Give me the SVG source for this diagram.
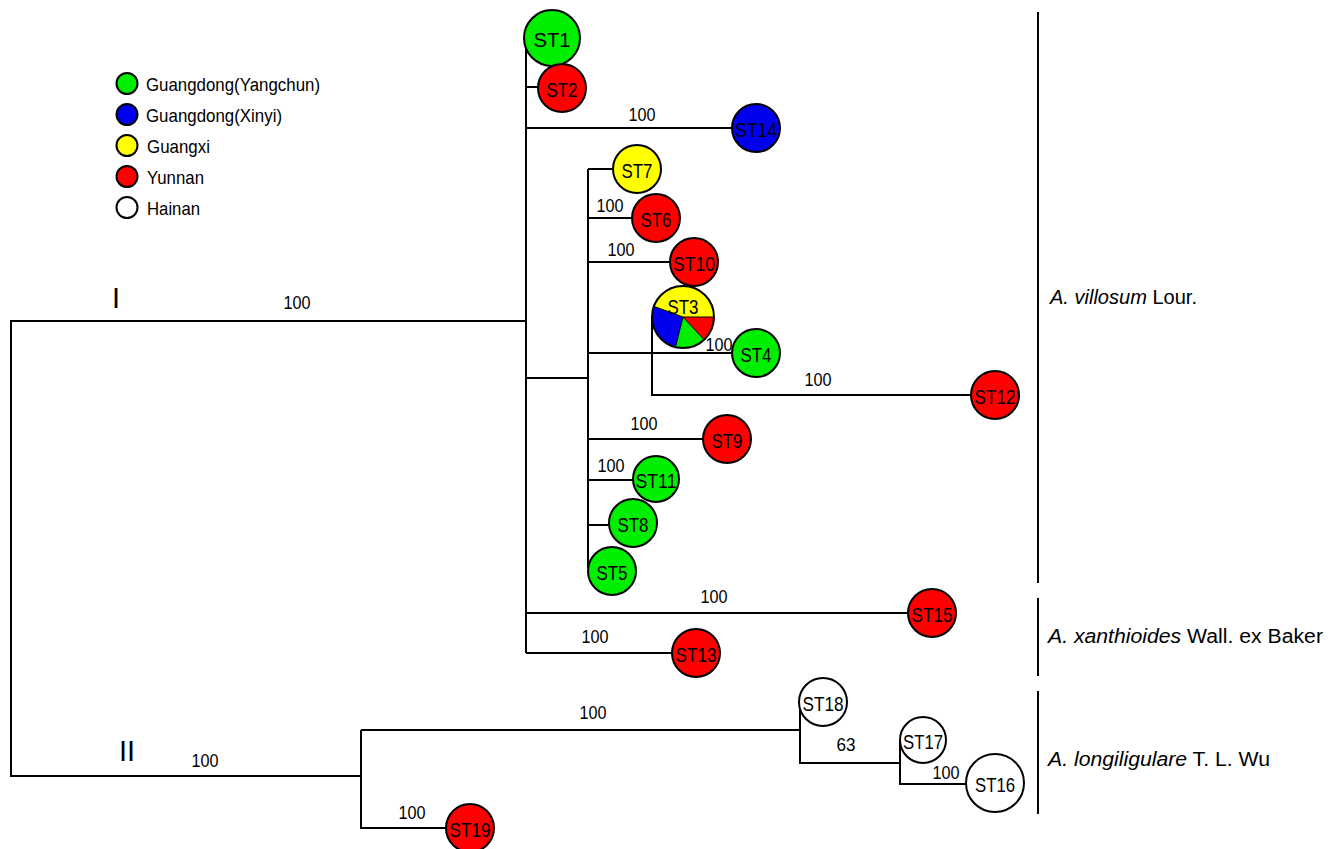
<svg xmlns="http://www.w3.org/2000/svg" width="1331" height="849" viewBox="0 0 1331 849">
<style>
.br{fill:none;stroke:#000;stroke-width:2}
.nd{stroke:#000;stroke-width:2}
.g{fill:#00ee00}.r{fill:#ff0000}.b{fill:#0000ee}.y{fill:#ffff00}.w{fill:#fff}
text{font-family:"Liberation Sans",Arial,sans-serif;fill:#000}
.nl{font-size:21px;text-anchor:middle;dominant-baseline:central}
.bs{font-size:19px;text-anchor:middle}
.lg{font-size:19px}
.sp{font-size:20px}
.cl{font-size:29px;text-anchor:middle}
</style>
<rect width="1331" height="849" fill="#fff"/>
<g id="connectors">
<path class="br" d="M526,321 H11 V776 H361"/>
<path class="br" d="M526,40 V653"/>
<path class="br" d="M526,87 H540"/>
<path class="br" d="M526,128 H733"/>
<path class="br" d="M526,378 H588"/>
<path class="br" d="M588,169 V568"/>
<path class="br" d="M588,169 H614"/>
<path class="br" d="M588,218 H633"/>
<path class="br" d="M588,262 H671"/>
<path class="br" d="M588,353 H733"/>
<path class="br" d="M652,317 V395 H972"/>
<path class="br" d="M588,439 H704"/>
<path class="br" d="M588,480 H634"/>
<path class="br" d="M588,525 H610"/>
<path class="br" d="M526,613 H909"/>
<path class="br" d="M526,653 H673"/>
<path class="br" d="M361,730 V828 H447"/>
<path class="br" d="M361,730 H800 V763 H900 V784 H966"/>
<path class="br" d="M800,702 V730"/>
<path class="br" d="M900,740 V763"/>
<path class="br" d="M1038,12 V583 M1038,598 V676 M1038,691 V814"/>
</g>
<g id="branch-labels">
<text class="cl" x="116" y="308">I</text>
<text class="bs" x="297" y="309" textLength="27" lengthAdjust="spacingAndGlyphs">100</text>
<text class="cl" x="127" y="761">II</text>
<text class="bs" x="205" y="767" textLength="27" lengthAdjust="spacingAndGlyphs">100</text>
<text class="bs" x="642" y="121" textLength="27" lengthAdjust="spacingAndGlyphs">100</text>
<text class="bs" x="610" y="212" textLength="27" lengthAdjust="spacingAndGlyphs">100</text>
<text class="bs" x="621" y="256" textLength="27" lengthAdjust="spacingAndGlyphs">100</text>
<text class="bs" x="719" y="351" textLength="27" lengthAdjust="spacingAndGlyphs">100</text>
<text class="bs" x="818" y="386" textLength="27" lengthAdjust="spacingAndGlyphs">100</text>
<text class="bs" x="644" y="430" textLength="27" lengthAdjust="spacingAndGlyphs">100</text>
<text class="bs" x="611" y="472" textLength="27" lengthAdjust="spacingAndGlyphs">100</text>
<text class="bs" x="714" y="603" textLength="27" lengthAdjust="spacingAndGlyphs">100</text>
<text class="bs" x="595" y="643" textLength="27" lengthAdjust="spacingAndGlyphs">100</text>
<text class="bs" x="593" y="719" textLength="27" lengthAdjust="spacingAndGlyphs">100</text>
<text class="bs" x="846" y="751" textLength="19" lengthAdjust="spacingAndGlyphs">63</text>
<text class="bs" x="946" y="779" textLength="27" lengthAdjust="spacingAndGlyphs">100</text>
<text class="bs" x="412" y="819" textLength="27" lengthAdjust="spacingAndGlyphs">100</text>
</g>
<g id="ST1"><circle class="nd g" cx="552" cy="38" r="28"/><text class="nl" x="552" y="39" textLength="37" lengthAdjust="spacingAndGlyphs">ST1</text></g>
<g id="ST2"><circle class="nd r" cx="562" cy="88" r="24"/><text class="nl" x="562" y="89" textLength="31" lengthAdjust="spacingAndGlyphs">ST2</text></g>
<g id="ST14"><circle class="nd b" cx="756" cy="128" r="24"/><text class="nl" x="756" y="129" textLength="42" lengthAdjust="spacingAndGlyphs">ST14</text></g>
<g id="ST7"><circle class="nd y" cx="637" cy="169" r="24"/><text class="nl" x="637" y="170" textLength="31" lengthAdjust="spacingAndGlyphs">ST7</text></g>
<g id="ST6"><circle class="nd r" cx="656" cy="218" r="24"/><text class="nl" x="656" y="219" textLength="31" lengthAdjust="spacingAndGlyphs">ST6</text></g>
<g id="ST10"><circle class="nd r" cx="694" cy="262" r="24"/><text class="nl" x="694" y="263" textLength="42" lengthAdjust="spacingAndGlyphs">ST10</text></g>
<g id="ST3">
<path class="y" d="M683,317 L654,306.4 A31,31 0 0 1 714,317 Z"/>
<path class="r" d="M683,317 L714,317 A31,31 0 0 1 704.1,339.7 Z"/>
<path class="g" d="M683,317 L704.1,339.7 A31,31 0 0 1 675.5,347.1 Z"/>
<path class="b" d="M683,317 L675.5,347.1 A31,31 0 0 1 654,306.4 Z"/>
<path d="M683,317 L654,306.4 M683,317 L714,317 M683,317 L704.1,339.7 M683,317 L675.5,347.1" stroke="#000" stroke-width="1" fill="none"/>
<circle cx="683" cy="317" r="31" fill="none" stroke="#000" stroke-width="2"/>
<text class="nl" x="683" y="306" textLength="31" lengthAdjust="spacingAndGlyphs">ST3</text>
</g>
<g id="ST4"><circle class="nd g" cx="756" cy="353" r="24"/><text class="nl" x="756" y="354" textLength="31" lengthAdjust="spacingAndGlyphs">ST4</text></g>
<g id="ST12"><circle class="nd r" cx="995" cy="395" r="24"/><text class="nl" x="995" y="396" textLength="41" lengthAdjust="spacingAndGlyphs">ST12</text></g>
<g id="ST9"><circle class="nd r" cx="727" cy="439" r="24"/><text class="nl" x="727" y="440" textLength="31" lengthAdjust="spacingAndGlyphs">ST9</text></g>
<g id="ST11"><circle class="nd g" cx="656" cy="479" r="23"/><text class="nl" x="656" y="480" textLength="41" lengthAdjust="spacingAndGlyphs">ST11</text></g>
<g id="ST8"><circle class="nd g" cx="633" cy="523" r="24"/><text class="nl" x="633" y="524" textLength="31" lengthAdjust="spacingAndGlyphs">ST8</text></g>
<g id="ST5"><circle class="nd g" cx="612" cy="571" r="24"/><text class="nl" x="612" y="572" textLength="31" lengthAdjust="spacingAndGlyphs">ST5</text></g>
<g id="ST15"><circle class="nd r" cx="932" cy="613" r="24"/><text class="nl" x="932" y="614" textLength="41" lengthAdjust="spacingAndGlyphs">ST15</text></g>
<g id="ST13"><circle class="nd r" cx="696" cy="653" r="24"/><text class="nl" x="696" y="654" textLength="41" lengthAdjust="spacingAndGlyphs">ST13</text></g>
<g id="ST18"><circle class="nd w" cx="823" cy="702" r="24"/><text class="nl" x="823" y="703" textLength="41" lengthAdjust="spacingAndGlyphs">ST18</text></g>
<g id="ST17"><circle class="nd w" cx="923" cy="740" r="23"/><text class="nl" x="923" y="741" textLength="40" lengthAdjust="spacingAndGlyphs">ST17</text></g>
<g id="ST16"><circle class="nd w" cx="995" cy="783" r="29"/><text class="nl" x="995" y="784" textLength="40" lengthAdjust="spacingAndGlyphs">ST16</text></g>
<g id="ST19"><circle class="nd r" cx="470" cy="828" r="24"/><text class="nl" x="470" y="829" textLength="41" lengthAdjust="spacingAndGlyphs">ST19</text></g>
<g id="legend">
<circle class="nd g" cx="127" cy="83.5" r="10.5" stroke-width="1.2"/><text class="lg" x="146" y="91" textLength="174" lengthAdjust="spacingAndGlyphs">Guangdong(Yangchun)</text>
<circle class="nd b" cx="127" cy="114.5" r="10.5" stroke-width="1.2"/><text class="lg" x="146" y="122" textLength="136" lengthAdjust="spacingAndGlyphs">Guangdong(Xinyi)</text>
<circle class="nd y" cx="127" cy="145.5" r="10.5" stroke-width="1.2"/><text class="lg" x="147" y="153" textLength="63" lengthAdjust="spacingAndGlyphs">Guangxi</text>
<circle class="nd r" cx="127" cy="176.5" r="10.5" stroke-width="1.2"/><text class="lg" x="147" y="184" textLength="57" lengthAdjust="spacingAndGlyphs">Yunnan</text>
<circle class="nd w" cx="127" cy="207.5" r="10.5" stroke-width="1.2"/><text class="lg" x="147" y="215" textLength="53" lengthAdjust="spacingAndGlyphs">Hainan</text>
</g>
<g id="species">
<text class="sp" x="1050" y="304" textLength="147" lengthAdjust="spacingAndGlyphs"><tspan font-style="italic">A. villosum</tspan> Lour.</text>
<text class="sp" x="1048" y="643" textLength="275" lengthAdjust="spacingAndGlyphs"><tspan font-style="italic">A. xanthioides</tspan> Wall. ex Baker</text>
<text class="sp" x="1048" y="766" textLength="222" lengthAdjust="spacingAndGlyphs"><tspan font-style="italic">A. longiligulare</tspan> T. L. Wu</text>
</g>
</svg>
